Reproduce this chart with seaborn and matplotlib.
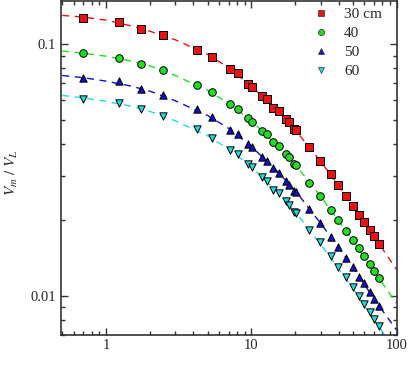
import matplotlib
matplotlib.use("Agg")
import matplotlib.pyplot as plt
import seaborn as sns
import pandas as pd
from matplotlib.ticker import LogLocator, NullFormatter, FixedLocator, FixedFormatter
from matplotlib.lines import Line2D

# ---- data ----
x_data = [0.7, 1.22, 1.74, 2.46, 4.22, 5.41, 7.17, 8.05, 9.49, 10.1, 11.85, 12.83,
          14.19, 15.53, 17.24, 18.2, 19.8, 20.2, 25.1, 29.6, 35.2, 39.6, 45, 50,
          55.6, 60.2, 65.4, 69.7, 76]
y_30 = [0.127, 0.1224, 0.1147, 0.1086, 0.0946, 0.0891, 0.0798, 0.0767, 0.0693, 0.0677,
        0.0621, 0.0604, 0.0558, 0.0541, 0.0505, 0.0491, 0.0461, 0.0456, 0.0389, 0.0343,
        0.0303, 0.0276, 0.0248, 0.0228, 0.0209, 0.01965, 0.0182, 0.0172, 0.0161]
y_40 = [0.0918, 0.088, 0.083, 0.0786, 0.0689, 0.0642, 0.0575, 0.0553, 0.0506, 0.0492,
        0.045, 0.0438, 0.0407, 0.0394, 0.0366, 0.0356, 0.0335, 0.0331, 0.0281, 0.0248,
        0.0218, 0.0199, 0.018, 0.0167, 0.0154, 0.0143, 0.0133, 0.0125, 0.0117]
y_50 = [0.0735, 0.0711, 0.0662, 0.0625, 0.055, 0.0514, 0.0455, 0.0437, 0.0399, 0.0389,
        0.0356, 0.0344, 0.0321, 0.0308, 0.0285, 0.0276, 0.0261, 0.0258, 0.022, 0.0195,
        0.0171, 0.0156, 0.0141, 0.013, 0.0119, 0.0112, 0.0103, 0.0097, 0.0091]
y_60 = [0.0606, 0.0584, 0.0553, 0.0517, 0.0458, 0.0424, 0.0379, 0.0364, 0.0332, 0.0324,
        0.0297, 0.0285, 0.0264, 0.0256, 0.0237, 0.023, 0.0215, 0.0213, 0.0183, 0.0163,
        0.0143, 0.013, 0.0118, 0.0108, 0.00994, 0.00927, 0.00858, 0.00808, 0.0076]

# fitted dashed curves
x_fit = [0.5, 0.7, 1, 1.5, 2, 3, 5, 7, 10, 15, 20, 30, 50, 70, 100]
fit_30 = [0.130, 0.128, 0.1245, 0.118, 0.1125, 0.104, 0.091, 0.0805, 0.068, 0.0548,
          0.0457, 0.0342, 0.0229, 0.0172, 0.0127]
fit_40 = [0.0938, 0.092, 0.0895, 0.0855, 0.082, 0.075, 0.0655, 0.058, 0.0495, 0.0398,
          0.0333, 0.0248, 0.0166, 0.0125, 0.0093]
fit_50 = [0.075, 0.0735, 0.0712, 0.068, 0.065, 0.0595, 0.052, 0.0462, 0.0392, 0.0313,
          0.0262, 0.0194, 0.0130, 0.0097, 0.0073]
fit_60 = [0.0625, 0.061, 0.0592, 0.0565, 0.054, 0.0495, 0.0432, 0.0382, 0.0325, 0.0259,
          0.0216, 0.0160, 0.0107, 0.0080, 0.0060]

labels = ["30 cm", "40", "50", "60"]
x_ticks = [1, 10, 100]
x_ticklabels = ["1", "10", "100"]
y_ticks = [0.01, 0.1]
y_ticklabels = ["0.01", "0.1"]

# ---- styling ----
colors = ["#ee1111", "#22dd22", "#1010cc", "#22dddd"]
markers = ["s", "o", "^", "v"]

sns.set_style("ticks")
plt.rcParams["font.family"] = ["Liberation Serif", "DejaVu Serif"]
plt.rcParams["mathtext.fontset"] = "stix"
plt.rcParams["font.size"] = 10.5

fig = plt.figure(figsize=(4.09, 3.88), dpi=100)
ax = fig.add_axes([61 / 409, 1 - 334.5 / 388, (396.5 - 61) / 409, 334 / 388])

ys = [y_30, y_40, y_50, y_60]
fits = [fit_30, fit_40, fit_50, fit_60]

for lab, yv, fv, c, m in zip(labels, ys, fits, colors, markers):
    dfit = pd.DataFrame({"x": x_fit, "y": fv})
    sns.lineplot(data=dfit, x="x", y="y", ax=ax, color=c, lw=1.0,
                 dashes=False, sort=True, estimator=None, zorder=2)
    ax.lines[-1].set_dashes([5, 4])
    ddat = pd.DataFrame({"x": x_data, "y": yv})
    sns.scatterplot(data=ddat, x="x", y="y", ax=ax, marker=m, color=c,
                    s=28 if m != "o" else 30, edgecolor="black", linewidth=0.7,
                    zorder=3, legend=False)

ax.set_xscale("log")
ax.set_yscale("log")
ax.set_xlim(0.49, 100)
ax.set_ylim(0.007, 0.149)

ax.xaxis.set_major_locator(FixedLocator(x_ticks))
ax.xaxis.set_major_formatter(FixedFormatter(x_ticklabels))
ax.yaxis.set_major_locator(FixedLocator(y_ticks))
ax.yaxis.set_major_formatter(FixedFormatter(y_ticklabels))
ax.xaxis.set_minor_locator(LogLocator(base=10, subs=range(2, 10), numticks=20))
ax.yaxis.set_minor_locator(LogLocator(base=10, subs=range(2, 10), numticks=20))
ax.xaxis.set_minor_formatter(NullFormatter())
ax.yaxis.set_minor_formatter(NullFormatter())

ax.tick_params(which="both", direction="in", top=True, right=True,
               color="#333333", width=1.0, labelsize=10.5)
ax.tick_params(which="major", length=5)
ax.tick_params(which="minor", length=3)
for s in ax.spines.values():
    s.set_linewidth(1.2)
    s.set_color("#333333")

ax.set_xlabel("")
ax.set_ylabel(r"$V_m\ /\ V_L$", fontsize=11)
ax.yaxis.set_label_coords(-0.122, 0.485)

handles = [Line2D([], [], ls="none", marker=m, color=c, markersize=4.5,
                  markeredgecolor="#333333", markeredgewidth=0.5)
           for m, c in zip(markers, colors)]
ax.legend(handles, labels, loc="upper left", bbox_to_anchor=(303 / 409, 1.008),
          bbox_transform=fig.transFigure, frameon=False, fontsize=11,
          handlelength=1.0, handletextpad=1.0, labelspacing=0.34, borderpad=0.2)

fig.savefig("out.png", dpi=100)
